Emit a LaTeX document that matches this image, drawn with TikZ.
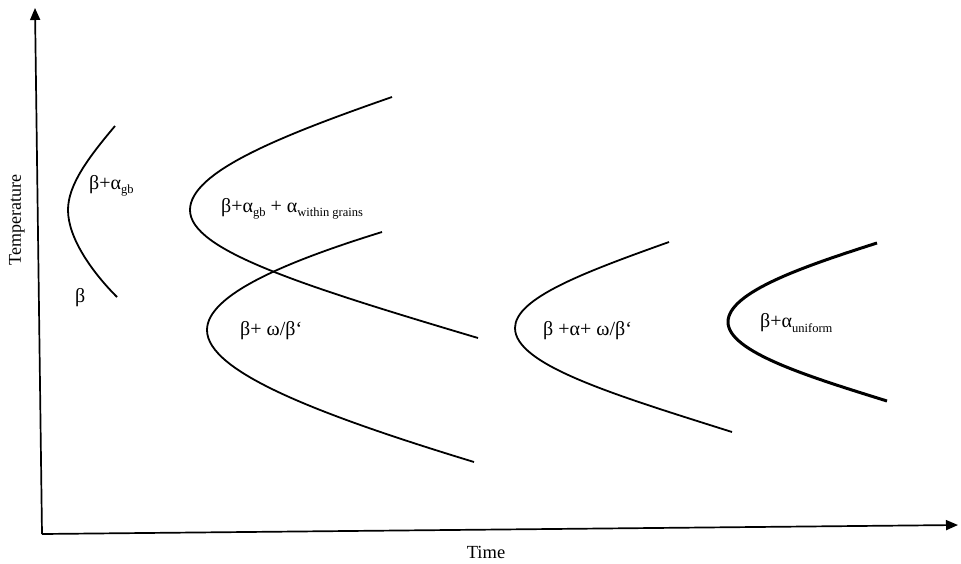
\documentclass[tikz,border=0pt]{standalone}
\usepackage{fontspec}
\setmainfont{Liberation Serif}
\usetikzlibrary{arrows.meta}
\newcommand{\lsub}[1]{\raisebox{-0.45ex}{\fontsize{12.5}{13}\selectfont #1}}
\newcommand{\grv}{\symbol{96}}
\begin{document}
\begin{tikzpicture}[x=1pt,y=-1pt,
  curve/.style={line width=1.8pt},
  thickcurve/.style={line width=3pt},
  axis/.style={line width=1.7pt,-{Triangle[length=12pt,width=10pt]}},
  lab/.style={anchor=west,inner sep=0pt,font=\fontsize{20}{22}\selectfont}]
\useasboundingbox (0,0) rectangle (961,563);
% axes
\coordinate (O) at (42,534);
\coordinate (Ytop) at (35,8);
\coordinate (Xend) at (958,525);
\draw[axis] (O) -- (Ytop);
\draw[axis] (O) -- (Xend);
% curve 1
\coordinate (c1t) at (115,126);
\coordinate (c1v) at (68,210);
\coordinate (c1b) at (117,297);
\draw[curve] (c1t) .. controls (88,158) and (68,185) .. (c1v)
  .. controls (68,238) and (92,272) .. (c1b);
% curve 2
\coordinate (c2t) at (392,97);
\coordinate (c2v) at (190,210);
\coordinate (c2b) at (478,338);
\draw[curve] (c2t) .. controls (280,136) and (190,172) .. (c2v)
  .. controls (190,250) and (300,285) .. (c2b);
% curve 3
\coordinate (c3t) at (382,232);
\coordinate (c3v) at (207,330);
\coordinate (c3b) at (474,462);
\draw[curve] (c3t) .. controls (285,262) and (207,295) .. (c3v)
  .. controls (207,372) and (320,415) .. (c3b);
% curve 4
\coordinate (c4t) at (669,242);
\coordinate (c4v) at (515,328);
\coordinate (c4b) at (732,432);
\draw[curve] (c4t) .. controls (585,272) and (515,298) .. (c4v)
  .. controls (515,365) and (615,395) .. (c4b);
% curve 5
\coordinate (c5t) at (877,243);
\coordinate (c5v) at (728,322);
\coordinate (c5b) at (887,401);
\draw[thickcurve] (c5t) .. controls (805,266) and (728,292) .. (c5v)
  .. controls (728,352) and (810,377) .. (c5b);
% labels
\node[lab] (l1) at (89,186) {β+α\lsub{gb}};
\node[lab] (l2) at (75,298) {β};
\node[lab] (l3) at (221,209) {β+α\lsub{gb} + α\lsub{within grains}};
\node[lab] (l4) at (240,331) {β+ ω/β\grv};
\node[lab] (l5) at (543,331) {β +α+ ω/β\grv};
\node[lab] (l6) at (760,323) {β+α\lsub{uniform}};
\node[font=\fontsize{18}{20}\selectfont,rotate=90] (ylab) at (17,220) {Temperature};
\node[font=\fontsize{18.5}{20}\selectfont] (xlab) at (486,552) {Time};
\end{tikzpicture}
\end{document}
